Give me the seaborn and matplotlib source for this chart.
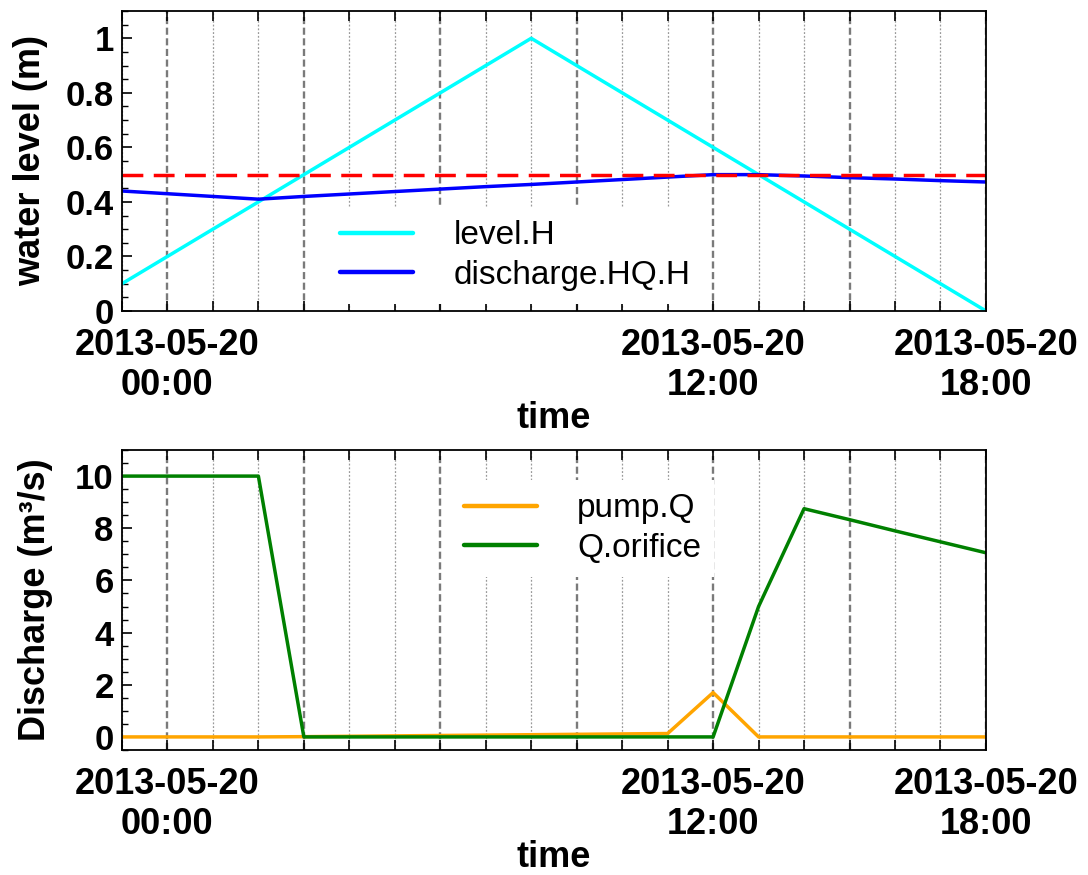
import numpy as np
import pandas as pd
import matplotlib
matplotlib.use("Agg")
import matplotlib.pyplot as plt
import matplotlib.dates as mdates
from matplotlib.ticker import MultipleLocator, FuncFormatter
import seaborn as sns

# ---------------- data ----------------
times = pd.date_range("2013-05-19 23:00", "2013-05-20 18:00", freq="h")
level_H = [0.1, 0.2, 0.3, 0.4, 0.5, 0.6, 0.7, 0.8, 0.9, 1.0,
           0.9, 0.8, 0.7, 0.6, 0.5, 0.4, 0.3, 0.2, 0.1, 0.0]
discharge_HQ_H = [0.44, 0.43, 0.42, 0.41, 0.42, 0.429, 0.438, 0.447, 0.456, 0.464,
                  0.473, 0.482, 0.491, 0.50, 0.50, 0.495, 0.489, 0.484, 0.478, 0.473]
threshold = 0.5
pump_Q = [0.0, 0.0, 0.0, 0.0, 0.01, 0.025, 0.04, 0.055, 0.07, 0.085,
          0.10, 0.115, 0.13, 1.7, 0.0, 0.0, 0.0, 0.0, 0.0, 0.0]
Q_orifice = [10.0, 10.0, 10.0, 10.0, 0.0, 0.0, 0.0, 0.0, 0.0, 0.0,
             0.0, 0.0, 0.0, 0.0, 5.0, 8.75, 8.33, 7.9, 7.48, 7.06]
labeled_hours = [0, 12, 18]

df_top = pd.DataFrame({"time": times, "level.H": level_H, "discharge.HQ.H": discharge_HQ_H})
df_bot = pd.DataFrame({"time": times, "pump.Q": pump_Q, "Q.orifice": Q_orifice})

# ---------------- style ----------------
sns.set_theme(style="white")
plt.rcParams["font.family"] = ["Liberation Sans", "DejaVu Sans"]
plt.rcParams["axes.edgecolor"] = "black"
plt.rcParams["axes.linewidth"] = 1.3
plt.rcParams["text.color"] = "black"
plt.rcParams["axes.labelcolor"] = "black"
plt.rcParams["xtick.color"] = "black"
plt.rcParams["ytick.color"] = "black"
plt.rcParams["xtick.labelcolor"] = "black"
plt.rcParams["ytick.labelcolor"] = "black"

fig = plt.figure(figsize=(10.88, 8.75), dpi=100)
ax1 = fig.add_axes([0.1121, 0.6446, 0.9062 - 0.1121, 0.9874 - 0.6446])
ax2 = fig.add_axes([0.1121, 0.1429, 0.9062 - 0.1121, 0.4857 - 0.1429])

LW = 2.5
DASH = (0, (6, 3))
sns.lineplot(data=df_top, x="time", y="level.H", ax=ax1, color="#00FFFF", lw=LW, label="level.H")
sns.lineplot(data=df_top, x="time", y="discharge.HQ.H", ax=ax1, color="#0000FF", lw=LW, label="discharge.HQ.H")
ax1.axhline(threshold, color="#FF0000", lw=LW, ls=DASH)

sns.lineplot(data=df_bot, x="time", y="pump.Q", ax=ax2, color="#FFA500", lw=LW, label="pump.Q")
sns.lineplot(data=df_bot, x="time", y="Q.orifice", ax=ax2, color="#008000", lw=LW, label="Q.orifice")


def xfmt(x, pos):
    d = mdates.num2date(x)
    if d.hour in labeled_hours and d.minute == 0:
        return d.strftime("%Y-%m-%d\n%H:%M")
    return ""


for ax in (ax1, ax2):
    ax.set_xlim(times[0], times[-1])
    ax.xaxis.set_major_locator(mdates.HourLocator(byhour=range(0, 24, 3)))
    ax.xaxis.set_minor_locator(mdates.HourLocator())
    ax.xaxis.set_major_formatter(FuncFormatter(xfmt))
    ax.tick_params(axis="x", which="both", direction="in", top=True, bottom=True,
                   length=7, width=1.2, color="black", labelsize=26, pad=12)
    ax.tick_params(axis="y", which="major", direction="in", left=True, right=False,
                   length=7, width=1.2, color="black", labelsize=25, pad=6)
    ax.tick_params(axis="y", which="minor", direction="in", left=True, right=False,
                   length=4, width=1.0, color="black")
    ax.grid(True, which="major", axis="x", color="#7a7a7a", ls=(0, (3, 1.5)), lw=1.7)
    ax.grid(True, which="minor", axis="x", color="#9a9a9a", ls=(0, (1.5, 1.5)), lw=0.9)
    ax.grid(False, axis="y")
    for s in ax.spines.values():
        s.set_visible(True)
        s.set_color("black")
        s.set_zorder(6)
    ax.set_xlabel("time", fontsize=26, fontweight="bold")
    ax.xaxis.set_label_coords(0.5, -0.30)

ax1.set_ylim(0, 1.1)
ax1.yaxis.set_major_locator(MultipleLocator(0.2))
ax1.yaxis.set_minor_locator(MultipleLocator(0.05))
ax1.yaxis.set_major_formatter(FuncFormatter(lambda v, p: f"{v:g}"))
ax1.set_ylabel("water level (m)", fontsize=26, fontweight="bold")
ax1.yaxis.set_label_coords(-0.085, 0.5)

ax2.set_ylim(-0.5, 11)
ax2.yaxis.set_major_locator(MultipleLocator(2))
ax2.yaxis.set_minor_locator(MultipleLocator(0.5))
ax2.yaxis.set_major_formatter(FuncFormatter(lambda v, p: f"{v:g}"))
ax2.set_ylabel("Discharge (m\u00b3/s)", fontsize=26, fontweight="bold")
ax2.yaxis.set_label_coords(-0.08, 0.5)

for ax in (ax1, ax2):
    for lab in ax.get_xticklabels() + ax.get_yticklabels():
        lab.set_fontweight("bold")
        lab.set_color("black")

leg_kw = dict(fontsize=24, frameon=True, facecolor="white", edgecolor="none", framealpha=1,
              handlelength=2.2, handletextpad=1.2, borderpad=0.4, labelspacing=0.25,
              borderaxespad=0, fancybox=False)
l1 = ax1.legend(loc="upper left", bbox_to_anchor=(0.237, 0.347), **leg_kw)
l2 = ax2.legend(loc="upper left", bbox_to_anchor=(0.38, 0.90), **leg_kw)
for lg in (l1, l2):
    for h in lg.get_lines():
        h.set_linewidth(3.2)

fig.savefig("out.png", dpi=100)
